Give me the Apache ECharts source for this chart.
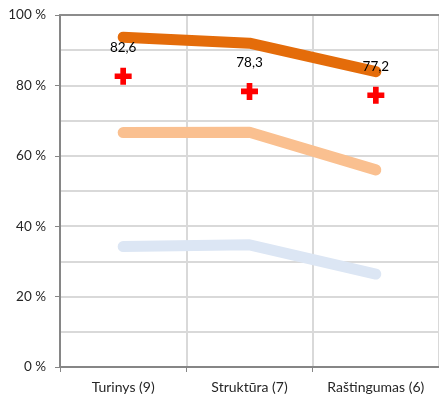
<!DOCTYPE html>
<html><head><meta charset="utf-8">
<script src="https://cdn.jsdelivr.net/npm/echarts@6/dist/echarts.min.js"></script>
<style>html,body{margin:0;padding:0;background:#fff}#c{width:439px;height:401px}</style>
</head><body><div id="c"></div>
<script>
const categories = ['Turinys (9)', 'Struktūra (7)', 'Raštingumas (6)'];
const topLine = [93.7, 92.0, 83.9];
const midLine = [66.6, 66.7, 56.0];
const lowLine = [34.2, 34.7, 26.4];
const scores = [82.6, 78.3, 77.2];
const yTicks = [0, 20, 40, 60, 80, 100];

const font = 'Lato, "Open Sans", sans-serif';
const plus = 'path://M3,0 H6 V3 H9 V6 H6 V9 H3 V6 H0 V3 H3 Z';
const chart = echarts.init(document.getElementById('c'));
function lineSeries(data, color) {
  return {type: 'line', data: data, symbol: 'none', silent: true,
    lineStyle: {color: color, width: 11, cap: 'round', join: 'round'}, z: 2};
}
chart.setOption({
  animation: false,
  grid: {left: 60, right: -5, top: 15, bottom: 34, containLabel: false},
  xAxis: [{
    type: 'category', data: categories, boundaryGap: true,
    axisLine: {lineStyle: {color: '#868686', width: 2}},
    axisTick: {show: true, length: 5, lineStyle: {color: '#868686'}},
    splitLine: {show: true, lineStyle: {color: '#d9d9d9', width: 2}},
    axisLabel: {color: '#262626', fontSize: 14, fontFamily: font, margin: 13}
  }, {
    type: 'category', data: categories, position: 'top',
    axisLine: {lineStyle: {color: '#8c8c8c', width: 2}},
    axisTick: {show: false}, axisLabel: {show: false}
  }],
  yAxis: {
    type: 'value', min: yTicks[0], max: yTicks[yTicks.length - 1], interval: 20,
    axisLine: {show: true, lineStyle: {color: '#868686', width: 2}},
    axisTick: {show: true, length: 5, lineStyle: {color: '#868686'}},
    splitLine: {lineStyle: {color: '#d9d9d9', width: 2}},
    minorTick: {show: false, splitNumber: 2},
    minorSplitLine: {show: true, lineStyle: {color: '#d9d9d9', width: 2}},
    axisLabel: {color: '#262626', fontSize: 13.5, fontFamily: font, margin: 14,
      formatter: v => v + ' %'}
  },
  series: [
    lineSeries(lowLine, '#dce6f4'),
    lineSeries(midLine, '#fac090'),
    lineSeries(topLine, '#e46c0a'),
    {type: 'scatter', data: scores, symbol: plus, symbolSize: 17, z: 5,
      itemStyle: {color: '#ff0000', opacity: 1},
      label: {show: true, position: 'top', distance: 13, color: '#000',
        fontSize: 13.5, fontFamily: font,
        formatter: p => String(p.value).replace('.', ',')}}
  ]
});
</script></body></html>
